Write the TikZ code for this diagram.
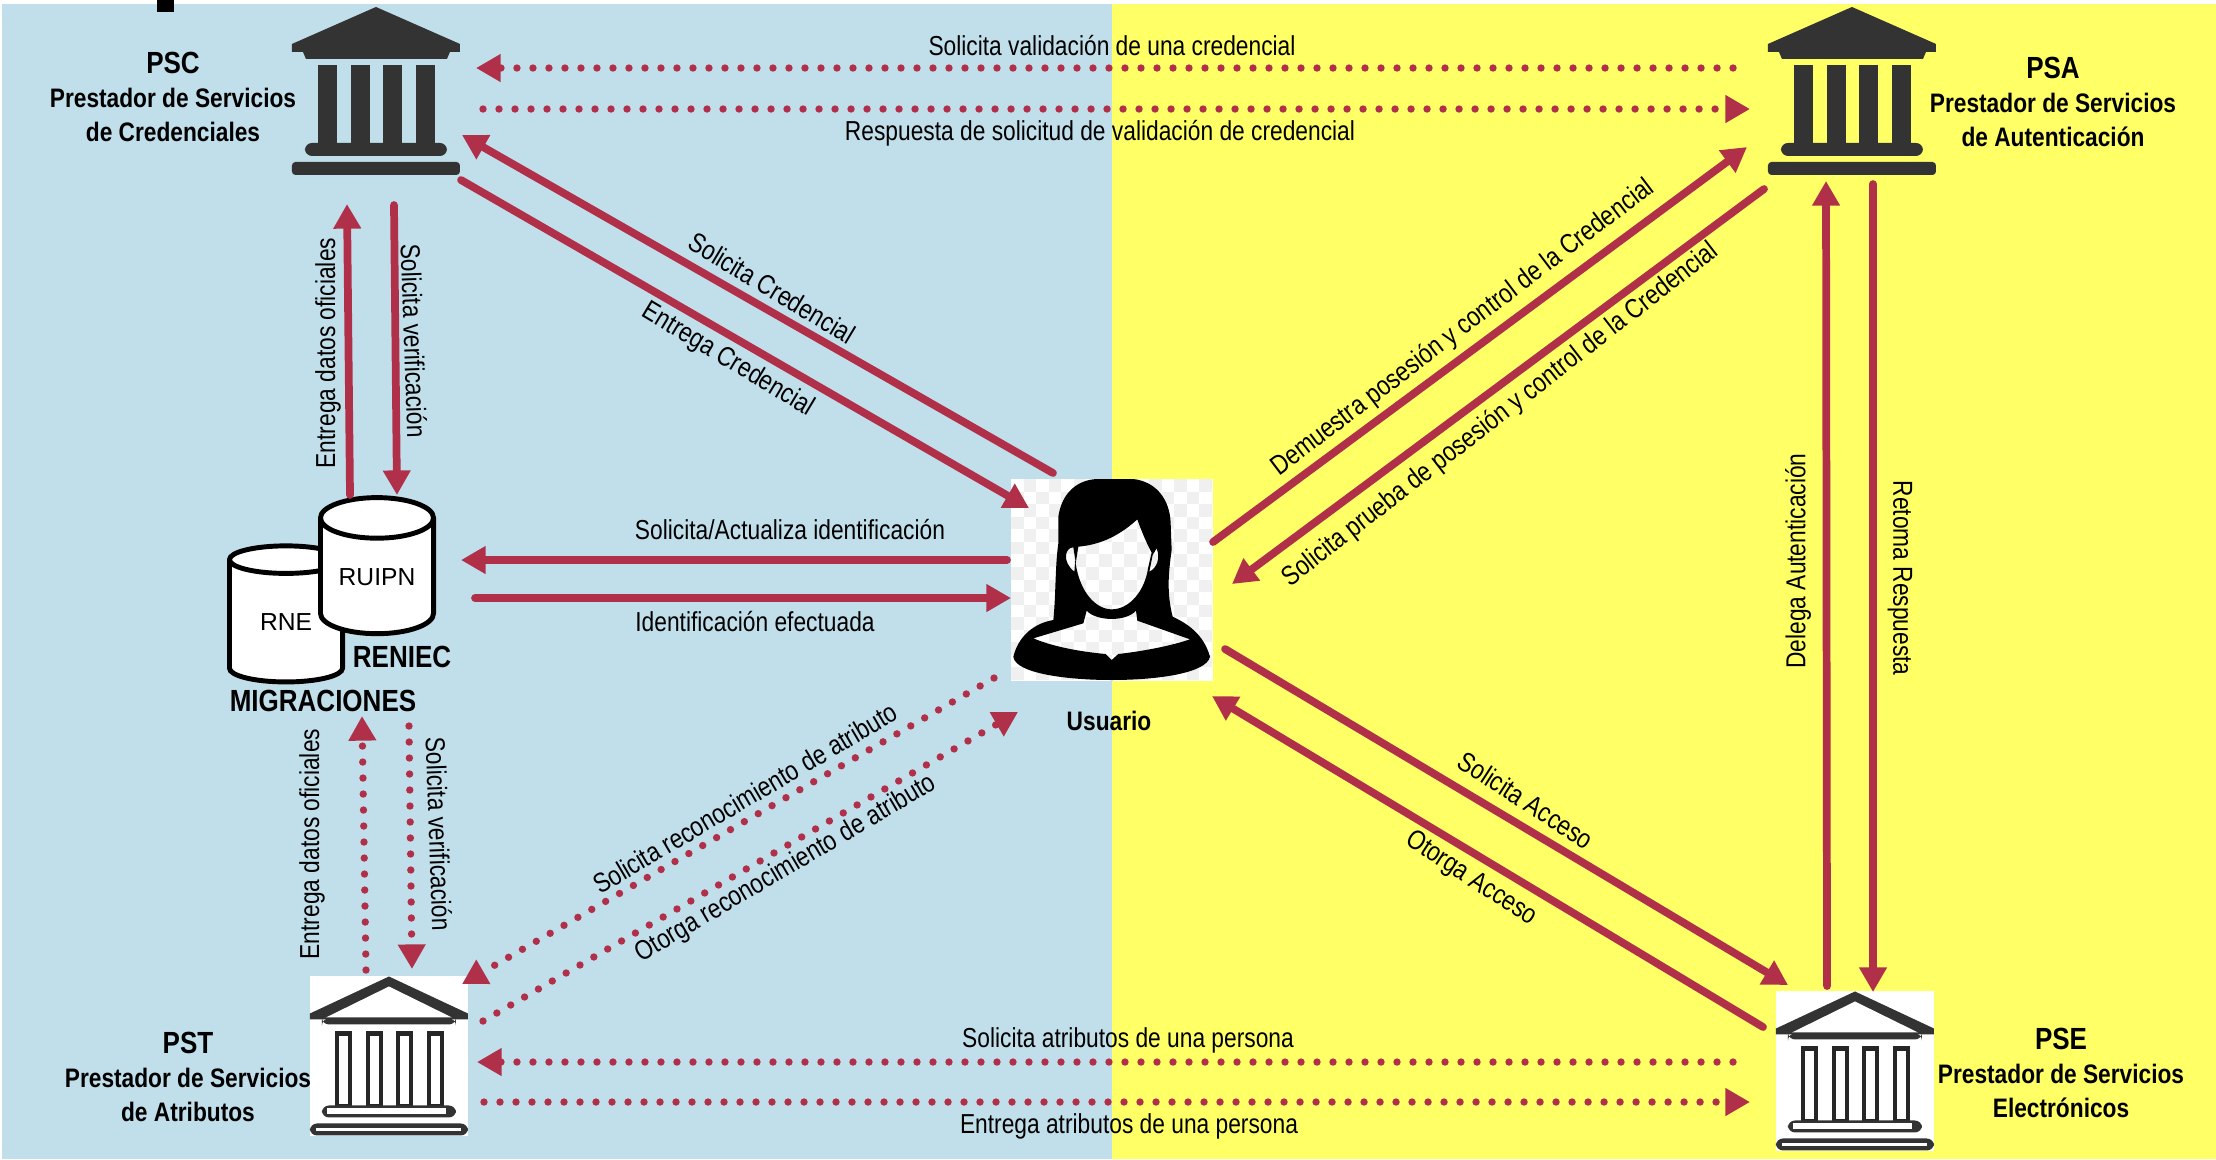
\documentclass[tikz,border=0pt]{standalone}
\usepackage{fontspec}
\setmainfont{Liberation Sans}[FakeStretch=0.83,BoldFeatures={FakeStretch=0.85}]
\newfontfamily\plainfont{Liberation Sans}
\usepackage{xcolor}
\usetikzlibrary{positioning, shapes.geometric, arrows.meta}

\definecolor{bgblue}{HTML}{C1DFEA}
\definecolor{bgyellow}{HTML}{FFFF66}
\definecolor{linkred}{HTML}{B0304A}
\definecolor{icondark}{HTML}{333333}
\definecolor{checkgrey}{HTML}{F0F0F0}

\tikzset{
	solidicon/.pic={
		\fill[icondark] (84,0) -- (168,37) -- (168,45) -- (158,45) -- (155,52) -- (14,52) -- (11,45) -- (0,45) -- (0,37) -- cycle;
		\foreach \cx in {26,59,91,124}
			\fill[icondark] (\cx,58) rectangle (\cx+19,137);
		\fill[icondark, rounded corners=2] (13,136) rectangle (155,149);
		\fill[icondark, rounded corners=1] (0,155) rectangle (168,168);
	},
	outlineicon/.pic={
		\fill[icondark] (79,0) -- (158,37) -- (158,43) -- (0,43) -- (0,37) -- cycle;
		\fill[white] (79,10) -- (142,41) -- (16,41) -- cycle;
		\fill[icondark, rounded corners=2] (12,42) rectangle (146,48);
		\foreach \cx in {27,58,88,119}
			\draw[black!85, line width=1.3pt, fill=white] (\cx,57) rectangle (\cx+13,130);
		\fill[icondark, rounded corners=2] (12,129) rectangle (146,141);
		\fill[white] (17,132) rectangle (136,138);
		\fill[icondark, rounded corners=2] (0,147) rectangle (158,159);
		\fill[white] (6,152) rectangle (151,155);
	}
}

\begin{document}
\begin{tikzpicture}[x=0.01cm, y=-0.01cm]
	\tikzstyle{iconbox}=[rectangle, minimum width=1.68cm, minimum height=1.68cm, inner sep=0pt, outer sep=0pt]
	\tikzstyle{whitebox}=[rectangle, fill=white, minimum width=1.58cm, minimum height=1.59cm, inner sep=0pt, outer sep=0pt]
	\tikzstyle{dbase}=[cylinder, shape border rotate=90, aspect=0.53, draw=black, fill=white, line width=1.4pt, minimum width=1.13cm, inner sep=0pt, outer sep=0pt, font=\plainfont\fontsize{7}{8}\selectfont]
	\tikzstyle{lab}=[inner sep=0pt, font=\fontsize{7.8}{9}\selectfont]
	\tikzstyle{title}=[inner sep=0pt, align=center, font=\bfseries\fontsize{7.6}{9.7}\selectfont]
	\tikzstyle{big}=[inner sep=0pt, font=\bfseries\fontsize{8.7}{9}\selectfont]
	\tikzstyle{solidarrow}=[draw=linkred, line width=2.2pt, line cap=round, -{Triangle[length=7pt, width=7.5pt]}]
	\tikzstyle{dotarrow}=[solidarrow, line width=2.1pt, dash pattern=on 0pt off 4.55pt]

	\useasboundingbox (0,0) rectangle (2216,1159);
	\fill[white] (0,0) rectangle (2216,1159);
	\fill[bgblue] (2,4) rectangle (1112,1159);
	\fill[bgyellow] (1112,4) rectangle (2216,1159);
	\fill[black] (157,0) rectangle (174,12);

	% titles
	\node (psctext) at (173,97) [title] {{\fontsize{8.7}{9}\selectfont PSC}\\Prestador de Servicios\\de Credenciales};
	\node (psatext) at (2053,102) [title] {{\fontsize{8.7}{9}\selectfont PSA}\\Prestador de Servicios\\de Autenticación};
	\node (psttext) at (188,1077) [title] {{\fontsize{8.7}{9}\selectfont PST}\\Prestador de Servicios\\de Atributos};
	\node (psetext) at (2061,1073) [title] {{\fontsize{8.7}{9}\selectfont PSE}\\Prestador de Servicios\\Electrónicos};

	% icons
	\node (psc) at (376,91) [iconbox] {};
	\node (psa) at (1852,91) [iconbox] {};
	\node (pst) at (389,1056) [whitebox] {};
	\node (pse) at (1855,1071) [whitebox] {};
	\pic at (psc.north west) {solidicon};
	\pic at (psa.north west) {solidicon};
	\pic at (pst.north west) {outlineicon};
	\pic at (pse.north west) {outlineicon};

	% user
	\node (usuario) at (1112,580) [rectangle, fill=white, minimum width=2.01cm, minimum height=2.01cm, inner sep=0pt, outer sep=0pt] {};
	\begin{scope}[shift={(1011,479)}]
		\foreach \i in {0,...,15}
			\foreach \j in {0,...,15} {
				\pgfmathtruncatemacro{\chk}{mod(\i+\j,2)}
				\ifnum\chk=1
					\fill[checkgrey] (12.56*\i,12.56*\j) rectangle (12.56*\i+12.56,12.56*\j+12.56);
				\fi
			}
	\end{scope}
	\begin{scope}[shift={(990,460)}, scale=0.3333]
		\fill[black, even odd rule]
			(320,57) .. controls (345,57) and (405,57) .. (430,57)
			.. controls (500,65) and (540,120) .. (542,190)
			-- (545,270) .. controls (535,340) and (530,400) .. (548,470)
			.. controls (590,490) and (640,520) .. (660,590)
			.. controls (650,640) and (500,660) .. (365,660)
			.. controls (230,660) and (75,640) .. (70,590)
			.. controls (85,530) and (130,490) .. (190,480)
			.. controls (198,400) and (195,320) .. (205,250)
			-- (205,170) .. controls (215,100) and (260,60) .. (320,57) -- cycle
			% face
			(442,178) .. controls (380,235) and (320,255) .. (265,260)
			-- (257,310) .. controls (270,400) and (320,448) .. (365,448)
			.. controls (420,448) and (465,390) .. (474,325)
			-- (485,278) .. controls (470,250) and (455,215) .. (442,178) -- cycle
			% ears
			(250,262) .. controls (225,262) and (215,305) .. (253,335) -- (256,300) -- cycle
			(500,265) .. controls (512,295) and (500,325) .. (478,335) -- (488,285) -- cycle
			% chest
			(290,452) .. controls (320,485) and (410,485) .. (438,452)
			-- (442,482) -- (600,538) .. controls (520,565) and (420,578) .. (385,582)
			-- (365,600) -- (347,582) .. controls (300,578) and (200,565) .. (130,535)
			-- (280,490) -- cycle;
	\end{scope}
	\node (usuariotext) at (1109,721) [title] {Usuario};

	% databases
	\node (rne) at (286,622) [dbase, minimum height=1.36cm] {RNE};
	\node (ruipn) at (377,577) [dbase, minimum height=1.36cm] {RUIPN};
	\node (reniec) at (402,657) [big] {RENIEC};
	\node (migraciones) at (323,701) [big] {MIGRACIONES};

	% top row
	\draw[dotarrow] ([shift={(-119,-23)}]psa.center) -- ([shift={(100,-23)}]psc.center);
	\draw[dotarrow] ([shift={(107,18)}]psc.center) -- ([shift={(-102,18)}]psa.center);
	\node (l01) at (1112,46) [lab] {Solicita validación de una credencial};
	\node (l02) at (1100,133) [lab] {Respuesta de solicitud de validación de credencial};

	% psc and usuario
	\draw[solidarrow] ([shift={(-59,-107)}]usuario.center) -- ([shift={(86,44)}]psc.center);
	\draw[solidarrow] ([shift={(85,89)}]psc.center) -- ([shift={(-83,-72)}]usuario.center);
	\node (l03) at (772,288) [lab, rotate=-31] {Solicita Credencial};
	\node (l04) at (728,360) [lab, rotate=-31] {Entrega Credencial};

	% psc and ruipn
	\draw[solidarrow] ([shift={(18,114)}]psc.center) -- ([shift={(20,-82)}]ruipn.center);
	\draw[solidarrow] ([shift={(-27,-82)}]ruipn.center) -- ([shift={(-29,113)}]psc.center);
	\node (l05) at (328,353) [lab, rotate=90] {Entrega datos oficiales};
	\node (l06) at (414,341) [lab, rotate=-88] {Solicita verificación};

	% ruipn and usuario
	\draw[solidarrow] ([shift={(-105,-20)}]usuario.center) -- ([shift={(84,-17)}]ruipn.center);
	\draw[solidarrow] ([shift={(98,21)}]ruipn.center) -- ([shift={(-101,18)}]usuario.center);
	\node (l07) at (790,530) [lab] {Solicita/Actualiza identificación};
	\node (l08) at (755,622) [lab] {Identificación efectuada};

	% pst and usuario
	\draw[dotarrow] ([shift={(-118,98)}]usuario.center) -- ([shift={(73,-72)}]pst.center);
	\draw[dotarrow] ([shift={(94,-35)}]pst.center) -- ([shift={(-94,132)}]usuario.center);
	\node (l09) at (745,798) [lab, rotate=30.5] {Solicita reconocimiento de atributo};
	\node (l10) at (786,869) [lab, rotate=30.5] {Otorga reconocimiento de atributo};

	% pst and migraciones
	\draw[dotarrow] ([shift={(-23,-86)}]pst.center) -- ([shift={(39,15)}]migraciones.center);
	\draw[dotarrow] ([shift={(86,25)}]migraciones.center) -- ([shift={(23,-87)}]pst.center);
	\node (l11) at (312,844) [lab, rotate=90] {Entrega datos oficiales};
	\node (l12) at (439,834) [lab, rotate=-88] {Solicita verificación};

	% bottom row
	\draw[dotarrow] ([shift={(-122,-9)}]pse.center) -- ([shift={(88,6)}]pst.center);
	\draw[dotarrow] ([shift={(95,46)}]pst.center) -- ([shift={(-105,31)}]pse.center);
	\node (l13) at (1128,1040) [lab] {Solicita atributos de una persona};
	\node (l14) at (1129,1126) [lab] {Entrega atributos de una persona};

	% usuario and psa
	\draw[solidarrow] ([shift={(101,-38)}]usuario.center) -- ([shift={(-105,56)}]psa.center);
	\draw[solidarrow] ([shift={(-88,98)}]psa.center) -- ([shift={(120,4)}]usuario.center);
	\node (l15) at (1463,328) [lab, rotate=37.2] {Demuestra posesión y control de la Credencial};
	\node (l16) at (1501,415) [lab, rotate=37.8] {Solicita prueba de posesión y control de la Credencial};

	% usuario and pse
	\draw[solidarrow] ([shift={(113,69)}]usuario.center) -- ([shift={(-67,-86)}]pse.center);
	\draw[solidarrow] ([shift={(-92,-44)}]pse.center) -- ([shift={(100,116)}]usuario.center);
	\node (l17) at (1526,800) [lab, rotate=-33] {Solicita Acceso};
	\node (l18) at (1471,879) [lab, rotate=-33] {Otorga Acceso};

	% pse and psa
	\draw[solidarrow] ([shift={(-28,-85)}]pse.center) -- ([shift={(-26,90)}]psa.center);
	\draw[solidarrow] ([shift={(21,93)}]psa.center) -- ([shift={(18,-79)}]pse.center);
	\node (l19) at (1798,561) [lab, rotate=90] {Delega Autenticación};
	\node (l20) at (1900,578) [lab, rotate=-90] {Retoma Respuesta};
\end{tikzpicture}
\end{document}
